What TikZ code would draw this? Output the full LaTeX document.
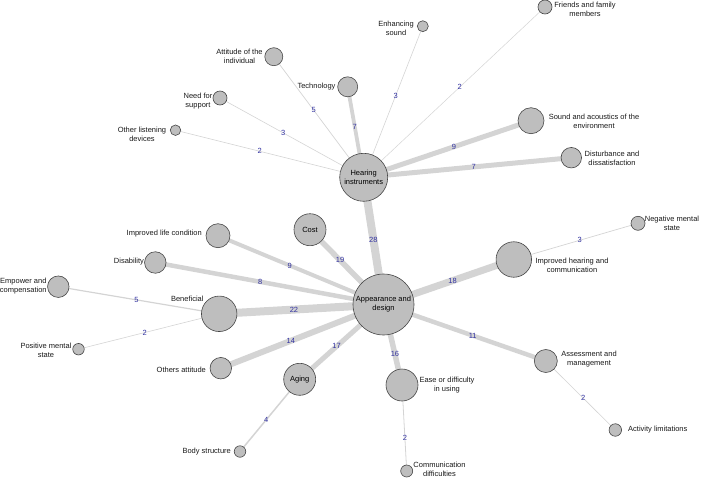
\documentclass[tikz,border=0pt]{standalone}
\usepackage{fontspec}
\setmainfont{Liberation Sans}
\definecolor{edgegray}{RGB}{212,212,212}
\definecolor{numblue}{RGB}{48,48,160}
\definecolor{vfill}{RGB}{190,190,190}
\definecolor{vdraw}{RGB}{70,70,70}
\pgfdeclarelayer{bg}
\pgfsetlayers{bg,main}
\begin{document}
\begin{tikzpicture}[x=1pt,y=-1pt,
  vtx/.style={circle, draw=vdraw, fill=vfill, line width=0.6pt, inner sep=0pt, minimum size=#1, font=\fontsize{7.5}{9}\selectfont, align=center},
  tx/.style={inner sep=0pt, font=\fontsize{7.5}{9}\selectfont, align=center, text=black!90},
  ed/.style={draw=edgegray, line width=#1},
  num/.style={inner sep=0pt, font=\fontsize{7.5}{9}\selectfont, text=numblue}]
\useasboundingbox (0,0) rectangle (702,477);

% hubs
\node[vtx=48pt] (HI) at (363.7,177.3) {Hearing\\instruments};
\node[vtx=61pt] (AD) at (383.5,304.5) {Appearance and\\design};

% around HI
\node[vtx=20pt] (Tech) at (347.7,86.8) {};
\node[vtx=18pt] (Att) at (273.8,56.7) {};
\node[vtx=11pt] (Enh) at (422.8,26.2) {};
\node[vtx=14pt] (Need) at (220,98) {};
\node[vtx=10.5pt] (Oth) at (175.5,130.2) {};
\node[vtx=14pt] (Fri) at (545,7) {};
\node[vtx=26pt] (Snd) at (531,120.7) {};
\node[vtx=20.5pt] (Dist) at (571.3,157.7) {};

% around AD
\node[vtx=24pt] (Life) at (218,235.7) {};
\node[vtx=32pt] (Cost) at (310,229.7) {Cost};
\node[vtx=21.5pt] (Disab) at (155.3,262.5) {};
\node[vtx=35.5pt] (Ben) at (219.2,313.8) {};
\node[vtx=21.5pt] (Emp) at (58.3,286.7) {};
\node[vtx=11.5pt] (Pos) at (78.5,349.2) {};
\node[vtx=21.5pt] (OthA) at (220.8,368.2) {};
\node[vtx=32pt] (Aging) at (299.7,379.3) {Aging};
\node[vtx=11.5pt] (Body) at (240,451.5) {};
\node[vtx=35.5pt] (ImpH) at (513.8,259.5) {};
\node[vtx=14pt] (Neg) at (638,223.3) {};
\node[vtx=23pt] (Ass) at (545.8,361) {};
\node[vtx=12.5pt] (Act) at (615.3,430) {};
\node[vtx=32pt] (Ease) at (402,385) {};
\node[vtx=12pt] (Com) at (406.7,471) {};

% text labels
\node[tx] (tAtt) at (239.5,56) {Attitude of the\\individual};
\node[tx] (tEnh) at (396,28.5) {Enhancing\\sound};
\node[tx] (tTech) at (316.5,86.5) {Technology};
\node[tx] (tNeed) at (198,101.5) {Need for\\support};
\node[tx] (tOth) at (142,134) {Other listening\\devices};
\node[tx] (tFri) at (585,9) {Friends and family\\members};
\node[tx] (tSnd) at (594,121) {Sound and acoustics of the\\environment};
\node[tx] (tDis) at (612,158) {Disturbance and\\dissatisfaction};
\node[tx] (tLife) at (164.2,234) {Improved life condition};
\node[tx] (tDisab) at (129,261.5) {Disability};
\node[tx] (tEmp) at (23.3,286) {Empower and\\compensation};
\node[tx] (tBen) at (187.3,299.3) {Beneficial};
\node[tx] (tPos) at (46,350) {Positive mental\\state};
\node[tx] (tOthA) at (181.3,369.5) {Others attitude};
\node[tx] (tBody) at (206.7,451.5) {Body structure};
\node[tx] (tImpH) at (572,265.5) {Improved hearing and\\communication};
\node[tx] (tNeg) at (672,223.7) {Negative mental\\state};
\node[tx] (tAss) at (589,359) {Assessment and\\management};
\node[tx] (tEase) at (447,385) {Ease or difficulty\\in using};
\node[tx] (tAct) at (657.8,429.5) {Activity limitations};
\node[tx] (tCom) at (439.5,469) {Communication\\difficulties};

\begin{pgfonlayer}{bg}
\draw[ed=8pt] (HI.center) -- (AD.center) node[num,pos=0.49] {28};
\draw[ed=3.8pt] (HI.center) -- (Tech.center) node[num,pos=0.556] {7};
\draw[ed=0.7pt] (HI.center) -- (Att.center) node[num,pos=0.557] {5};
\draw[ed=0.6pt] (HI.center) -- (Need.center) node[num,pos=0.56] {3};
\draw[ed=0.6pt] (HI.center) -- (Oth.center) node[num,pos=0.553] {2};
\draw[ed=0.6pt] (HI.center) -- (Enh.center) node[num,pos=0.54] {3};
\draw[ed=0.5pt] (HI.center) -- (Fri.center) node[num,pos=0.53] {2};
\draw[ed=5pt] (HI.center) -- (Snd.center) node[num,pos=0.54] {9};
\draw[ed=5pt] (HI.center) -- (Dist.center) node[num,pos=0.53] {7};

\draw[ed=4pt] (AD.center) -- (Life.center) node[num,pos=0.566] {9};
\draw[ed=5.5pt] (AD.center) -- (Cost.center) node[num,pos=0.59] {19};
\draw[ed=4.5pt] (AD.center) -- (Disab.center) node[num,pos=0.54] {8};
\draw[ed=8pt] (AD.center) -- (Ben.center) node[num,pos=0.545] {22};
\draw[ed=6pt] (AD.center) -- (OthA.center) node[num,pos=0.57] {14};
\draw[ed=5pt] (AD.center) -- (Aging.center) node[num,pos=0.56] {17};
\draw[ed=7pt] (AD.center) -- (ImpH.center) node[num,pos=0.53] {18};
\draw[ed=4.5pt] (AD.center) -- (Ass.center) node[num,pos=0.55] {11};
\draw[ed=5.5pt] (AD.center) -- (Ease.center) node[num,pos=0.62] {16};

\draw[ed=1.2pt] (Ben.center) -- (Emp.center) node[num,pos=0.515] {5};
\draw[ed=0.6pt] (Ben.center) -- (Pos.center) node[num,pos=0.53] {2};
\draw[ed=1.5pt] (Aging.center) -- (Body.center) node[num,pos=0.56] {4};
\draw[ed=0.7pt] (ImpH.center) -- (Neg.center) node[num,pos=0.53] {3};
\draw[ed=0.6pt] (Ass.center) -- (Act.center) node[num,pos=0.54] {2};
\draw[ed=0.8pt] (Ease.center) -- (Com.center) node[num,pos=0.61] {2};
\end{pgfonlayer}
\end{tikzpicture}
\end{document}
